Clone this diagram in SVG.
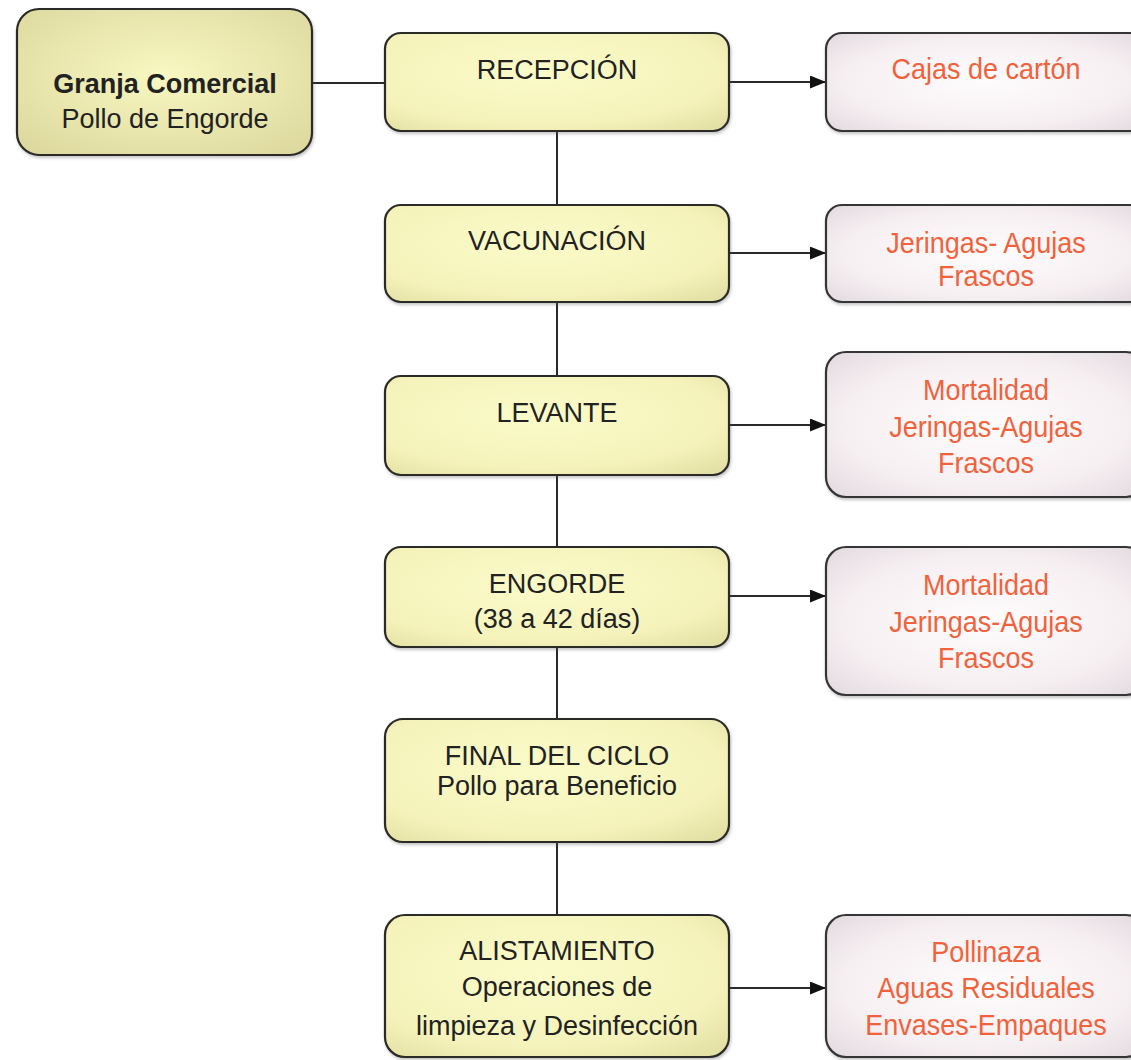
<svg xmlns="http://www.w3.org/2000/svg" width="1131" height="1060" viewBox="0 0 1131 1060">
  <defs>
    <radialGradient id="gSource" cx="0.5" cy="0.45" r="0.7">
      <stop offset="0" stop-color="#f9f8c2"/>
      <stop offset="1" stop-color="#dcd89e"/>
    </radialGradient>
    <radialGradient id="gStep" cx="0.45" cy="0.4" r="0.75">
      <stop offset="0" stop-color="#fbfbc9"/>
      <stop offset="0.7" stop-color="#f5f3bb"/>
      <stop offset="1" stop-color="#e4e1a6"/>
    </radialGradient>
    <radialGradient id="gWaste" cx="0.5" cy="0.5" r="0.75">
      <stop offset="0" stop-color="#fefcfd"/>
      <stop offset="0.6" stop-color="#f6eff2"/>
      <stop offset="1" stop-color="#ddd5da"/>
    </radialGradient>
    <filter id="shadow" x="-5%" y="-5%" width="110%" height="115%">
      <feDropShadow dx="1" dy="2" stdDeviation="1.5" flood-color="#555" flood-opacity="0.35"/>
    </filter>
    <marker id="arrow" viewBox="0 0 16 13" refX="16" refY="6.5" markerWidth="16" markerHeight="13" markerUnits="userSpaceOnUse" orient="auto">
      <path d="M0,0 L16,6.5 L0,13 Z" fill="#111"/>
    </marker>
  </defs>
  <style>
    .box { stroke: #2b2b26; stroke-width: 2.2; filter: url(#shadow); }
    .source { fill: url(#gSource); }
    .step { fill: url(#gStep); }
    .waste { fill: url(#gWaste); stroke: #363636; }
    .txt { font-family: "Liberation Sans", Arial, sans-serif; font-size: 27px; text-anchor: middle; fill: #222; }
    .bold { font-weight: bold; }
    /* taller, narrower lettering for the waste labels */
    .red { fill: #f0623c; font-size: 30px; transform: scaleX(0.9); transform-box: fill-box; transform-origin: center; }
    .link { stroke: #2a2a2a; stroke-width: 2; fill: none; }
    .flow { stroke: #2a2a2a; stroke-width: 2; fill: none; marker-end: url(#arrow); }
  </style>
  <rect width="1131" height="1060" fill="#ffffff"/>

  <g id="connectors">
    <line class="link" x1="557" y1="131" x2="557" y2="915"/>
    <line class="link" x1="312" y1="83" x2="385" y2="83"/>
    <line class="flow" x1="729" y1="82" x2="826" y2="82"/>
    <line class="flow" x1="729" y1="253" x2="826" y2="253"/>
    <line class="flow" x1="729" y1="425" x2="826" y2="425"/>
    <line class="flow" x1="729" y1="596" x2="826" y2="596"/>
    <line class="flow" x1="729" y1="988" x2="826" y2="988"/>
  </g>

  <g id="granja">
    <rect class="box source" x="17" y="9" width="295" height="146" rx="22"/>
    <text class="txt bold" x="165" y="93">Granja Comercial</text>
    <text class="txt" x="165" y="128">Pollo de Engorde</text>
  </g>

  <g id="recepcion">
    <rect class="box step" x="385" y="33" width="344" height="98" rx="16"/>
    <text class="txt" x="557" y="79">RECEPCIÓN</text>
  </g>

  <g id="vacunacion">
    <rect class="box step" x="385" y="205" width="344" height="97" rx="16"/>
    <text class="txt" x="557" y="250">VACUNACIÓN</text>
  </g>

  <g id="levante">
    <rect class="box step" x="385" y="376" width="344" height="99" rx="16"/>
    <text class="txt" x="557" y="422">LEVANTE</text>
  </g>

  <g id="engorde">
    <rect class="box step" x="385" y="547" width="344" height="100" rx="16"/>
    <text class="txt" x="557" y="593">ENGORDE</text>
    <text class="txt" x="557" y="628">(38 a 42 días)</text>
  </g>

  <g id="final-ciclo">
    <rect class="box step" x="385" y="719" width="344" height="123" rx="18"/>
    <text class="txt" x="557" y="765">FINAL DEL CICLO</text>
    <text class="txt" x="557" y="795">Pollo para Beneficio</text>
  </g>

  <g id="alistamiento">
    <rect class="box step" x="385" y="915" width="344" height="142" rx="20"/>
    <text class="txt" x="557" y="960">ALISTAMIENTO</text>
    <text class="txt" x="557" y="996">Operaciones de</text>
    <text class="txt" x="557" y="1035">limpieza y Desinfección</text>
  </g>

  <g id="residuo-recepcion">
    <rect class="box waste" x="826" y="33" width="320" height="98" rx="16"/>
    <text class="txt red" x="986" y="79">Cajas de cartón</text>
  </g>

  <g id="residuo-vacunacion">
    <rect class="box waste" x="826" y="205" width="320" height="97" rx="16"/>
    <text class="txt red" x="986" y="253">Jeringas- Agujas</text>
    <text class="txt red" x="986" y="286">Frascos</text>
  </g>

  <g id="residuo-levante">
    <rect class="box waste" x="826" y="352" width="320" height="145" rx="20"/>
    <text class="txt red" x="986" y="400">Mortalidad</text>
    <text class="txt red" x="986" y="437">Jeringas-Agujas</text>
    <text class="txt red" x="986" y="473">Frascos</text>
  </g>

  <g id="residuo-engorde">
    <rect class="box waste" x="826" y="547" width="320" height="148" rx="20"/>
    <text class="txt red" x="986" y="595">Mortalidad</text>
    <text class="txt red" x="986" y="632">Jeringas-Agujas</text>
    <text class="txt red" x="986" y="668">Frascos</text>
  </g>

  <g id="residuo-alistamiento">
    <rect class="box waste" x="826" y="915" width="320" height="142" rx="20"/>
    <text class="txt red" x="986" y="962">Pollinaza</text>
    <text class="txt red" x="986" y="998">Aguas Residuales</text>
    <text class="txt red" x="986" y="1035">Envases-Empaques</text>
  </g>
</svg>
